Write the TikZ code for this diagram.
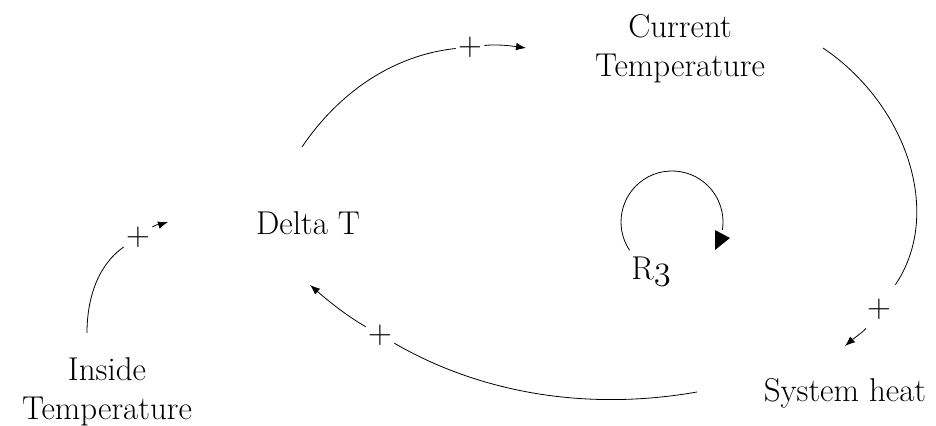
\documentclass[tikz,border=0pt]{standalone}
\usepackage{fontspec}
\usepackage{tikz}
\usetikzlibrary{arrows.meta}

\begin{document}
\begin{tikzpicture}[x=0.5pt,y=0.5pt,every node/.style={font=\fontsize{16.5}{19.5}\selectfont},
  var/.style={inner sep=0pt,align=center},
  pol/.style={inner sep=1pt},
  arc/.style={thin},
  link/.style={thin,-{Latex[length=5pt,width=3.8pt]}}]
\useasboundingbox (0,0) rectangle (936,426);
% variables
\node[var] (ct) at (680,377) {Current\\Temperature};
\node[var,anchor=base] (dt) at (308,191) {Delta T};
\node[var] (it) at (107,34) {Inside\\Temperature};
\node[var,anchor=base] (sh) at (845,24) {System heat};
% polarities
\node[pol] (p1) at (470,379) {+};
\node[pol] (p2) at (879,117) {+};
\node[pol] (p3) at (380,91) {+};
\node[pol] (p4) at (138,189) {+};
% links
\draw[arc] ([shift={(-6,88)}]dt.base) to[out=56,in=186,looseness=0.9] (p1);
\draw[link] (p1) to[out=6,in=172,looseness=0.85] ([shift={(-154,1)}]ct.center);
\draw[arc,shorten >=7pt] ([shift={(143,1)}]ct.center) to[out=-34,in=56] (p2);
\draw[link,shorten <=4pt] (p2) to[out=-124,in=41,looseness=0.85] ([shift={(0,56)}]sh.base);
\draw[arc] ([shift={(-148,10)}]sh.base) to[out=190,in=-30,looseness=0.88] (p3);
\draw[link] (p3) to[out=150,in=-41,looseness=0.85] ([shift={(2,-50)}]dt.base);
\draw[arc] ([shift={(-20,59)}]it.center) to[out=90,in=215,looseness=0.9] (p4);
\draw[link] (p4) to[out=35,in=198,looseness=0.85] ([shift={(-140,13)}]dt.base);
% loop R3
\node[var,anchor=base] (r3) at (651,146) {R{\usefont{OML}{cmm}{m}{it}3}};
\draw[thin] (672,204) ++(213.7:51) arc[start angle=213.7,end angle=-9,radius=51];
\fill (715,196) -- (715,176) -- (730,188) -- cycle;
\end{tikzpicture}
\end{document}
